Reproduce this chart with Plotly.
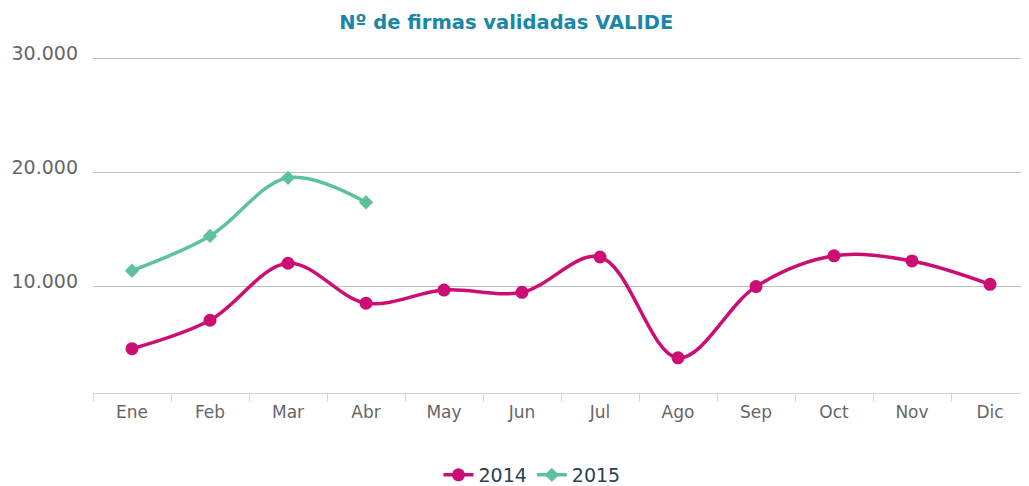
import plotly.graph_objects as go

months = ["Ene", "Feb", "Mar", "Abr", "May", "Jun", "Jul", "Ago", "Sep", "Oct", "Nov", "Dic"]
values_2014 = [4500, 7000, 12000, 8500, 9650, 9450, 12550, 3700, 9950, 12650, 12200, 10150]
months_2015 = ["Ene", "Feb", "Mar", "Abr"]
values_2015 = [11350, 14400, 19500, 17350]
y_ticks = [10000, 20000, 30000]
y_tick_labels = ["10.000", "20.000", "30.000"]

C2014 = "#cc0e74"
C2015 = "#5cc29a"

fig = go.Figure()
fig.add_trace(go.Scatter(
    x=months, y=values_2014, name="2014", mode="lines+markers",
    line=dict(color=C2014, width=3.5, shape="spline", smoothing=1.0),
    marker=dict(symbol="circle", size=13, color=C2014),
))
fig.add_trace(go.Scatter(
    x=months_2015, y=values_2015, name="2015", mode="lines+markers",
    line=dict(color=C2015, width=3.5, shape="spline", smoothing=1.0),
    marker=dict(symbol="diamond", size=11, color=C2015),
))

fig.update_layout(
    width=1021, height=478,
    margin=dict(l=85, r=0, t=49, b=93, autoexpand=False),
    paper_bgcolor="white", plot_bgcolor="white",
    font=dict(family="DejaVu Sans", color="#666666"),
    title=dict(text="<b>Nº de firmas validadas VALIDE</b>", x=0.488, xanchor="center",
               y=1 - 14 / 478, yanchor="middle", font=dict(size=19.5, color="#1a87a8")),
    showlegend=True,
    legend=dict(orientation="h", x=0.469, xanchor="center", y=-0.244, yanchor="middle",
                font=dict(size=19, color="#2c3e50"), itemwidth=30, bgcolor="rgba(0,0,0,0)"),
    hovermode=False,
)
fig.update_xaxes(
    type="category", categoryorder="array", categoryarray=months,
    range=[-0.5, 11.5], showgrid=False, showline=True, linecolor="#ccd6eb", linewidth=1,
    ticks="outside", tickson="boundaries", ticklen=8, tickcolor="#ccd6eb",
    ticklabelstandoff=4, automargin=False,
    tickfont=dict(size=17, color="#666666"), zeroline=False,
)
fig.update_yaxes(
    range=[614, 30100], tickvals=y_ticks, ticktext=y_tick_labels,
    showgrid=True, gridcolor="#c0c0c0", gridwidth=1, zeroline=False, showline=False,
    ticklabelposition="outside", ticklabelshift=-5, ticklabelstandoff=14, automargin=False,
    tickfont=dict(size=19, color="#666666"),
)

fig.write_html("out.html")
